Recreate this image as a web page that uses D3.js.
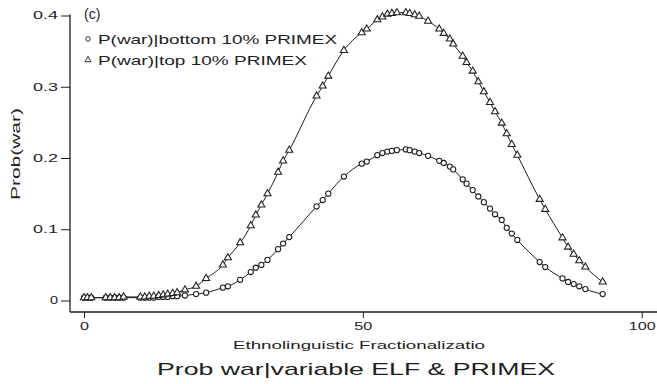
<!DOCTYPE html>
<html><head><meta charset="utf-8">
<script src="https://cdn.jsdelivr.net/npm/d3@7"></script>
<style>
body{margin:0;background:#fff}
svg{display:block}
text{font-family:"Liberation Sans",Arial,Helvetica,sans-serif;fill:#1e1e1e}
</style>
</head><body>
<svg id="chart" width="657" height="384"></svg>
<script>
// ---- data ----
const elf = [0, 0.6, 1.3,
  3.9, 4.7, 5.5, 6.3, 7.1,
  10.1, 10.9, 11.7, 12.5, 13.4, 14.2, 15.0, 15.9, 16.7,
  18.1, 20.1, 21.9, 24.9, 25.8, 28.0, 29.9, 30.8, 31.8, 32.9,
  34.8, 35.7, 36.8, 41.7, 42.8, 43.8, 46.6, 49.8, 50.7, 52.6,
  53.5, 54.4, 55.2, 56.1, 57.7, 58.4, 59.3, 60.1, 61.7, 63.7,
  64.5, 65.6, 66.2, 67.9, 68.6, 69.7, 70.7, 71.7, 72.8, 73.7,
  74.9, 75.8, 76.7, 77.7, 81.7, 82.7, 85.8, 86.8, 87.8, 88.8,
  89.9, 93.0];
const pBottom = [0.004, 0.004, 0.004,
  0.004, 0.004, 0.004, 0.004, 0.004,
  0.004, 0.004, 0.004, 0.004, 0.005, 0.005, 0.005, 0.006, 0.006,
  0.007, 0.009, 0.011, 0.018, 0.020, 0.029, 0.040, 0.046, 0.050, 0.057,
  0.072, 0.080, 0.089, 0.132, 0.141, 0.150, 0.174, 0.192, 0.195, 0.204,
  0.207, 0.209, 0.210, 0.211, 0.212, 0.211, 0.209, 0.207, 0.203, 0.196,
  0.193, 0.188, 0.184, 0.170, 0.164, 0.155, 0.146, 0.138, 0.129, 0.121,
  0.113, 0.102, 0.094, 0.085, 0.054, 0.047, 0.031, 0.026, 0.023, 0.020,
  0.016, 0.009];
const pTop = [0.004, 0.004, 0.004,
  0.004, 0.004, 0.004, 0.004, 0.005,
  0.005, 0.005, 0.006, 0.006, 0.007, 0.008, 0.009, 0.010, 0.011,
  0.015, 0.020, 0.031, 0.050, 0.060, 0.081, 0.105, 0.120, 0.134, 0.150,
  0.180, 0.196, 0.211, 0.287, 0.301, 0.315, 0.351, 0.376, 0.381, 0.394,
  0.398, 0.402, 0.403, 0.404, 0.404, 0.403, 0.401, 0.399, 0.392, 0.381,
  0.375, 0.367, 0.360, 0.343, 0.334, 0.322, 0.307, 0.293, 0.278, 0.265,
  0.249, 0.234, 0.219, 0.204, 0.142, 0.128, 0.088, 0.075, 0.065, 0.056,
  0.047, 0.026];
const xTicks = [0, 50, 100];
const yTicks = [0, 0.1, 0.2, 0.3, 0.4];
const yTickLabels = ["0", "0.1", "0.2", "0.3", "0.4"];
const legendLabels = ["P(war)|bottom 10% PRIMEX", "P(war)|top 10% PRIMEX"];
const panelLabel = "(c)";
const xTitle = "Ethnolinguistic Fractionalizatio";
const yTitle = "Prob(war)";
const chartTitle = "Prob war|variable ELF & PRIMEX";

// ---- drawing ----
const ink = "#1e1e1e";
const svg = d3.select("#chart");
const x = d3.scaleLinear().domain([0, 100]).range([84, 641.7]);
const y = d3.scaleLinear().domain([0, 0.4]).range([300.5, 15.5]);
const axisY0 = 312, axisX0 = 70;

// axis lines
svg.append("line").attr("x1", axisX0).attr("x2", 657).attr("y1", axisY0).attr("y2", axisY0)
  .attr("stroke", ink).attr("stroke-width", 1.3);
svg.append("line").attr("x1", axisX0).attr("x2", axisX0).attr("y1", 14.5).attr("y2", axisY0)
  .attr("stroke", ink).attr("stroke-width", 1.3);

// x axis
const gx = svg.append("g").attr("transform", `translate(0,${axisY0})`)
  .call(d3.axisBottom(x).tickValues(xTicks).tickSize(6).tickSizeOuter(0).tickFormat(d3.format("d")));
gx.select(".domain").remove();
gx.selectAll(".tick line").attr("stroke", ink).attr("stroke-width", 1);
gx.selectAll(".tick text").attr("y", 11).attr("font-size", 10.5).attr("fill", ink)
  .attr("font-family", null)
  .attr("textLength", d => String(d).length * 9).attr("lengthAdjust", "spacingAndGlyphs");

// y axis
const gy = svg.append("g").attr("transform", `translate(${axisX0},0)`)
  .call(d3.axisLeft(y).tickValues(yTicks).tickSize(9).tickSizeOuter(0)
    .tickFormat((d, i) => yTickLabels[i]));
gy.select(".domain").remove();
gy.selectAll(".tick line").attr("stroke", ink).attr("stroke-width", 1);
gy.selectAll(".tick text").attr("x", -12).attr("font-size", 10.5).attr("fill", ink)
  .attr("font-family", null)
  .attr("textLength", (d, i) => yTickLabels[i].length === 1 ? 8 : 25).attr("lengthAdjust", "spacingAndGlyphs");

// curves
const seriesList = [
  {vals: pBottom, sym: "circle"},
  {vals: pTop, sym: "triangle"}
];
const line = d3.line().x(d => x(d[0])).y(d => y(d[1])).curve(d3.curveMonotoneX);
seriesList.forEach(s => {
  const pts = elf.map((e, i) => [e, s.vals[i]]);
  svg.append("path").datum(pts).attr("d", line).attr("fill", "none")
    .attr("stroke", ink).attr("stroke-width", 1);
});
const tri = d3.symbol().type(d3.symbolTriangle).size(22);
seriesList.forEach(s => {
  const pts = elf.map((e, i) => [e, s.vals[i]]);
  if (s.sym === "circle") {
    svg.append("g").selectAll("circle").data(pts).join("circle")
      .attr("cx", d => x(d[0])).attr("cy", d => y(d[1])).attr("r", 2.6)
      .attr("fill", "#fff").attr("stroke", ink).attr("stroke-width", 1.05);
  } else {
    svg.append("g").selectAll("path").data(pts).join("path")
      .attr("d", tri).attr("transform", d => `translate(${x(d[0])},${y(d[1])})`)
      .attr("fill", "#fff").attr("stroke", ink).attr("stroke-width", 1.05);
  }
});

// legend
svg.append("text").attr("x", 84).attr("y", 19).attr("font-size", 14).text(panelLabel);
const legY = [39, 60];
svg.append("circle").attr("cx", 88).attr("cy", legY[0]).attr("r", 2.3)
  .attr("fill", "#fff").attr("stroke", ink).attr("stroke-width", 0.9);
svg.append("path").attr("d", d3.symbol().type(d3.symbolTriangle).size(16))
  .attr("transform", `translate(88,${legY[1]})`)
  .attr("fill", "#fff").attr("stroke", ink).attr("stroke-width", 0.9);
svg.append("text").attr("x", 98).attr("y", legY[0] + 4.6).attr("font-size", 13)
  .attr("textLength", 239).attr("lengthAdjust", "spacingAndGlyphs").text(legendLabels[0]);
svg.append("text").attr("x", 98).attr("y", legY[1] + 4.6).attr("font-size", 13)
  .attr("textLength", 209).attr("lengthAdjust", "spacingAndGlyphs").text(legendLabels[1]);

// titles
svg.append("text").attr("x", 233).attr("y", 349).attr("font-size", 11.5)
  .attr("textLength", 252).attr("lengthAdjust", "spacingAndGlyphs").text(xTitle);
svg.append("text").attr("transform", "translate(20,154) rotate(-90)").attr("text-anchor", "middle")
  .attr("font-size", 13).attr("textLength", 92).attr("lengthAdjust", "spacingAndGlyphs").text(yTitle);
svg.append("text").attr("x", 157).attr("y", 375).attr("font-size", 17)
  .attr("textLength", 398).attr("lengthAdjust", "spacingAndGlyphs").text(chartTitle);
</script>
</body></html>
